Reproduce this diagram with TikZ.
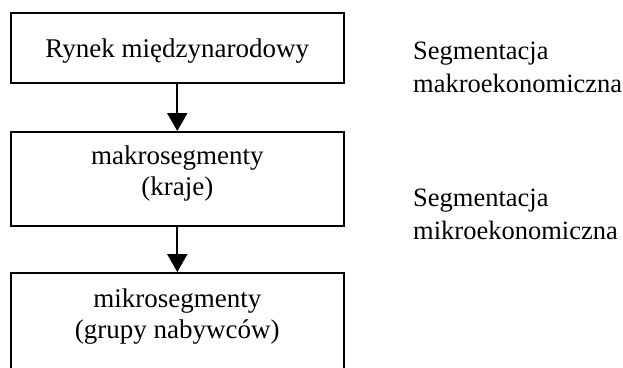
\documentclass[tikz,border=0pt]{standalone}
\usepackage{fontspec}
\setmainfont{Liberation Serif}
\usetikzlibrary{positioning, arrows.meta}

\begin{document}
\begin{tikzpicture}[x=1pt, y=-1pt, node distance=47pt,
	box/.style={draw, line width=2pt, minimum width=333pt, align=center, inner sep=0pt, font=\fontsize{27}{31}\selectfont},
	opis/.style={align=left, anchor=north west, inner sep=0pt, font=\fontsize{26.5}{33}\selectfont},
	strzalka/.style={-{Triangle[width=20pt, length=18pt]}, line width=2pt}]
	\clip (0,0) rectangle (623,367);
	\node[box, minimum height=70.5pt, text depth=0pt] (rynek) at (177.3,47.8) {Rynek międzynarodowy};
	\node[box, minimum height=93.5pt, text depth=17pt, below=of rynek] (makro) {makrosegmenty\\(kraje)};
	\node[box, minimum height=100pt, text depth=19pt, below=45.5pt of makro] (mikro) {mikrosegmenty\\(grupy nabywców)};
	\node[opis] (segmakro) at (413,42) {Segmentacja\\makroekonomiczna};
	\node[opis] (segmikro) at (413,189) {Segmentacja\\mikroekonomiczna};
	\draw[strzalka] (rynek) -- (makro);
	\draw[strzalka] (makro) -- (mikro);
\end{tikzpicture}
\end{document}
